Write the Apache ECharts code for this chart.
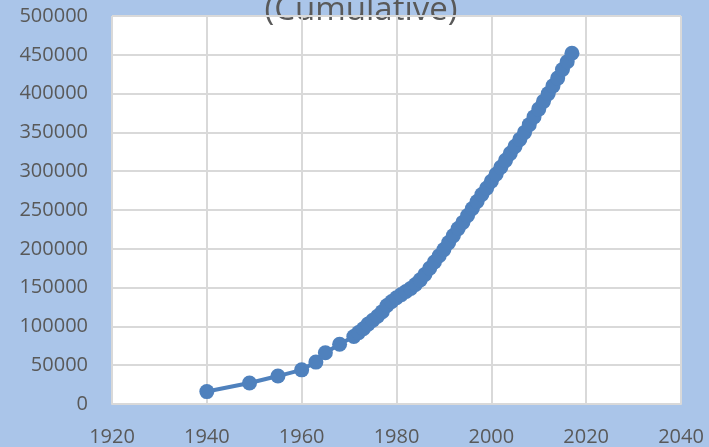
<!DOCTYPE html>
<html>
<head>
<meta charset="utf-8">
<script src="https://cdn.jsdelivr.net/npm/echarts@6/dist/echarts.min.js"></script>
<style>
html,body{margin:0;padding:0;background:#aac5e9;}
#chart{width:709px;height:447px;}
</style>
</head>
<body>
<div id="chart"></div>
<script>
var titleText = "(Cumulative)";
var years = [1940, 1949, 1955, 1960, 1963, 1965, 1968, 1971, 1972, 1973, 1974, 1975, 1976, 1977, 1978, 1979,
  1980, 1981, 1982, 1983, 1984, 1985, 1986, 1987, 1988, 1989, 1990, 1991, 1992, 1993, 1994, 1995, 1996, 1997,
  1998, 1999, 2000, 2001, 2002, 2003, 2004, 2005, 2006, 2007, 2008, 2009, 2010, 2011, 2012, 2013, 2014, 2015,
  2016, 2017];
var values = [16000, 27000, 36000, 44000, 54000, 66000, 77000, 87000, 92000, 97000, 103000, 108000, 113000,
  119000, 127000, 132000, 137000, 141000, 145000, 149000, 154000, 160000, 167000, 175000, 183000, 191000,
  199000, 208000, 217000, 226000, 234000, 243000, 252000, 261000, 270000, 278000, 287000, 296000, 305000,
  314000, 323000, 332000, 341000, 350000, 360000, 370000, 380000, 390000, 400000, 410000, 420000, 431000,
  441000, 452000];
var xTicks = [1920, 1940, 1960, 1980, 2000, 2020, 2040];
var yTicks = [0, 50000, 100000, 150000, 200000, 250000, 300000, 350000, 400000, 450000, 500000];

var seriesData = years.map(function (y, i) { return [y, values[i]]; });
var chart = echarts.init(document.getElementById('chart'));
var labelFont = { fontFamily: 'Open Sans', fontSize: 20, color: '#595959',
  formatter: function (v) { return String(v); } };
chart.setOption({
  backgroundColor: '#aac5e9',
  animation: false,
  graphic: [{
    type: 'text', x: 361, y: 11,
    style: { text: titleText, fontFamily: 'Open Sans', fontSize: 33, fill: '#595959',
      textAlign: 'center', textVerticalAlign: 'middle' }
  }],
  grid: { left: 112, right: 28, top: 16, bottom: 43, show: true, backgroundColor: '#ffffff', borderWidth: 0 },
  xAxis: {
    type: 'value', min: xTicks[0], max: xTicks[xTicks.length - 1], interval: 20,
    axisLine: { show: true, lineStyle: { color: '#d9d9d9', width: 2 } },
    axisTick: { show: false },
    splitLine: { show: true, lineStyle: { color: '#d9d9d9', width: 2 } },
    axisLabel: Object.assign({ margin: 23 }, labelFont)
  },
  yAxis: {
    type: 'value', min: yTicks[0], max: yTicks[yTicks.length - 1], interval: 50000,
    axisLine: { show: false },
    axisTick: { show: false },
    splitLine: { show: true, lineStyle: { color: '#d9d9d9', width: 2 } },
    axisLabel: Object.assign({ margin: 24 }, labelFont)
  },
  series: [{
    type: 'line', data: seriesData, symbol: 'circle', symbolSize: 15,
    lineStyle: { color: '#4f81bd', width: 4 },
    itemStyle: { color: '#4f81bd' }
  }]
});
</script>
</body>
</html>
